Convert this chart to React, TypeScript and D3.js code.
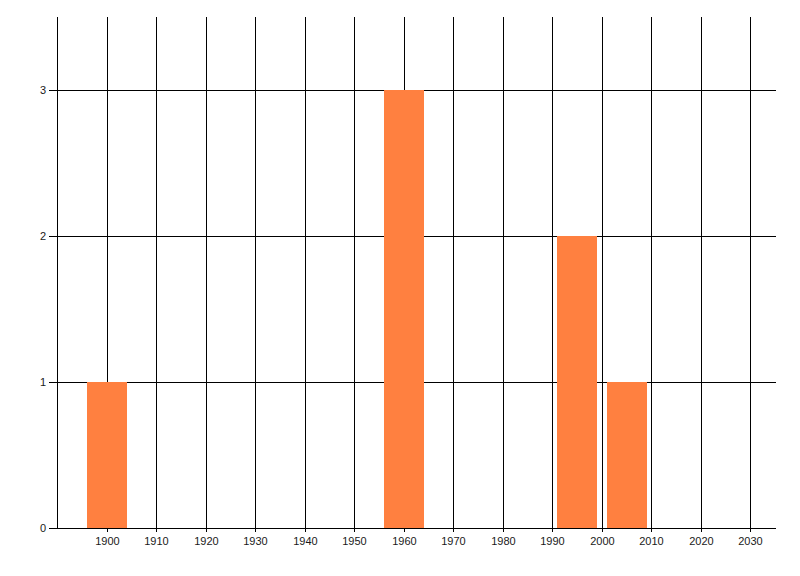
import React from "react";
import * as d3 from "d3";

const years = [1900, 1960, 1995, 2005];
const counts = [1, 3, 2, 1];
const xTicks = [1900, 1910, 1920, 1930, 1940, 1950, 1960, 1970, 1980, 1990, 2000, 2010, 2020, 2030];
const yTicks = [0, 1, 2, 3];

export default function App() {
  const W = 800, H = 576;
  const left = 57, right = 775, top = 17, bottom = 528;
  const x = d3.scaleLinear().domain([1890, 2035]).range([left, right]);
  const y = d3.scaleLinear().domain([0, 3.5]).range([bottom, top]);
  const px = (v: number) => Math.round(v) + 0.5;
  const font = "'Liberation Sans', Arial, sans-serif";
  return (
    <svg width={W} height={H} style={{ position: "absolute", left: 0, top: 0, background: "#fff" }}>
      {/* vertical grid */}
      {xTicks.map((t) => (
        <line key={"v" + t} x1={px(x(t))} x2={px(x(t))} y1={top} y2={bottom + 4} stroke="#000" shapeRendering="crispEdges" />
      ))}
      {/* horizontal grid */}
      {yTicks.map((t) => (
        <line key={"h" + t} x1={left - 8} x2={right + 1} y1={px(y(t))} y2={px(y(t))} stroke="#000" shapeRendering="crispEdges" />
      ))}
      {/* left axis */}
      <line x1={px(left)} x2={px(left)} y1={top} y2={bottom} stroke="#000" shapeRendering="crispEdges" />
      {/* bars (drawn over grid) */}
      {years.map((yr, i) => {
        const x0 = Math.round(x(yr - 4));
        const w = Math.round(x(yr + 4) - x(yr - 4));
        const yt = Math.round(y(counts[i]));
        return <rect key={yr} x={x0} y={yt} width={w} height={bottom - yt} fill="#FF8040" shapeRendering="crispEdges" />;
      })}
      {/* y labels */}
      {yTicks.map((t) => (
        <text key={"yl" + t} x={46} y={px(y(t))} dy="0.35em" textAnchor="end" fontFamily={font} fontSize={11} fill="#1a1a1a">
          {t}
        </text>
      ))}
      {/* x labels */}
      {xTicks.map((t) => (
        <text key={"xl" + t} x={px(x(t))} y={545} textAnchor="middle" fontFamily={font} fontSize={11} fill="#1a1a1a">
          {t}
        </text>
      ))}
    </svg>
  );
}
